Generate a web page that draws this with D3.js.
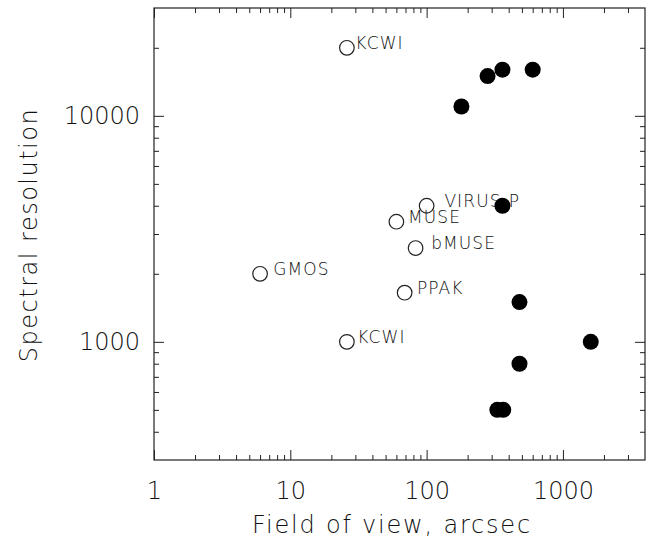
<!DOCTYPE html>
<html>
<head>
<meta charset="utf-8">
<script src="https://cdn.jsdelivr.net/npm/d3@7"></script>
<style>
  body { margin: 0; background: #fff; }
  text { font-family: "DejaVu Sans", sans-serif; font-weight: 200; fill: #111; }
</style>
</head>
<body>
<div id="chart"></div>
<script>
// open circles: labelled instruments
const openNames = ["KCWI", "VIRUS-P", "MUSE", "bMUSE", "GMOS", "PPAK", "KCWI"];
const openFov = [26, 100, 60, 83, 6, 69, 26];
const openRes = [20000, 4000, 3400, 2600, 2000, 1650, 1000];
// where each label starts, in arcsec
const labelFov = [30, 135, 73, 108, 7.5, 85, 31];

// filled circles
const filledFov = [180, 280, 360, 600, 360, 480, 1600, 480, 330, 365];
const filledRes = [11000, 15000, 16000, 16000, 4000, 1500, 1000, 800, 500, 500];

const xMajor = [1, 10, 100, 1000];
const yMajor = [1000, 10000];

const width = 646, height = 540;
const margin = { left: 154, right: 1, top: 8, bottom: 80 };

const svg = d3.select("#chart").append("svg")
  .attr("width", width)
  .attr("height", height);

const x = d3.scaleLog().domain([1, 4000]).range([margin.left, width - margin.right]);
const y = d3.scaleLog().domain([300, 30000]).range([height - margin.bottom, margin.top]);

// minor ticks: 2..9 of every decade inside the domain
function minorTicks(domain) {
  const out = [];
  for (let p = Math.floor(Math.log10(domain[0])); p <= Math.ceil(Math.log10(domain[1])); p++) {
    for (let m = 2; m <= 9; m++) {
      const v = m * Math.pow(10, p);
      if (v > domain[0] && v < domain[1]) out.push(v);
    }
  }
  return out;
}

const x0 = height - margin.bottom, x1 = margin.top;
const y0 = margin.left, y1 = width - margin.right;

function drawAxis(axis, transform) {
  const g = svg.append("g").attr("transform", transform).call(axis);
  g.select(".domain").remove();
  g.selectAll(".tick line").attr("stroke", "#222");
  return g;
}

// bottom and top
const bottom = drawAxis(d3.axisBottom(x).tickValues(xMajor).tickSize(-10).tickPadding(22)
  .tickFormat(d3.format("d")), `translate(0,${x0})`);
bottom.selectAll("text").attr("font-size", 24).attr("font-family", null);
drawAxis(d3.axisBottom(x).tickValues(minorTicks(x.domain())).tickSize(-5).tickFormat(""), `translate(0,${x0})`);
drawAxis(d3.axisTop(x).tickValues(xMajor).tickSize(-10).tickFormat(""), `translate(0,${x1})`);
drawAxis(d3.axisTop(x).tickValues(minorTicks(x.domain())).tickSize(-5).tickFormat(""), `translate(0,${x1})`);

// left and right
const left = drawAxis(d3.axisLeft(y).tickValues(yMajor).tickSize(-10).tickPadding(14)
  .tickFormat(d3.format("d")), `translate(${y0},0)`);
left.selectAll("text").attr("font-size", 24).attr("font-family", null);
drawAxis(d3.axisLeft(y).tickValues(minorTicks(y.domain())).tickSize(-5).tickFormat(""), `translate(${y0},0)`);
drawAxis(d3.axisRight(y).tickValues(yMajor).tickSize(-10).tickFormat(""), `translate(${y1},0)`);
drawAxis(d3.axisRight(y).tickValues(minorTicks(y.domain())).tickSize(-5).tickFormat(""), `translate(${y1},0)`);

// frame
svg.append("rect")
  .attr("x", y0).attr("y", x1)
  .attr("width", y1 - y0).attr("height", x0 - x1)
  .attr("fill", "none").attr("stroke", "#222").attr("stroke-width", 1.2);

// axis titles
svg.append("text")
  .attr("x", 392).attr("y", 533)
  .attr("text-anchor", "middle")
  .attr("font-size", 24).attr("letter-spacing", 1.8)
  .text("Field of view, arcsec");

svg.append("text")
  .attr("transform", "translate(37,235) rotate(-90)")
  .attr("text-anchor", "middle")
  .attr("font-size", 24).attr("letter-spacing", 1.5)
  .text("Spectral resolution");

// labels
svg.append("g").selectAll("text")
  .data(openNames)
  .join("text")
  .attr("x", (d, i) => x(labelFov[i]))
  .attr("y", (d, i) => y(openRes[i]) + 1)
  .attr("font-size", 17).attr("letter-spacing", 1.1)
  .text(d => d);

// open circles
svg.append("g").selectAll("circle")
  .data(openFov)
  .join("circle")
  .attr("cx", d => x(d))
  .attr("cy", (d, i) => y(openRes[i]))
  .attr("r", 7.3)
  .attr("fill", "none")
  .attr("stroke", "#222")
  .attr("stroke-width", 1.2);

// filled circles
svg.append("g").selectAll("circle")
  .data(filledFov)
  .join("circle")
  .attr("cx", d => x(d))
  .attr("cy", (d, i) => y(filledRes[i]))
  .attr("r", 8)
  .attr("fill", "#000");
</script>
</body>
</html>
